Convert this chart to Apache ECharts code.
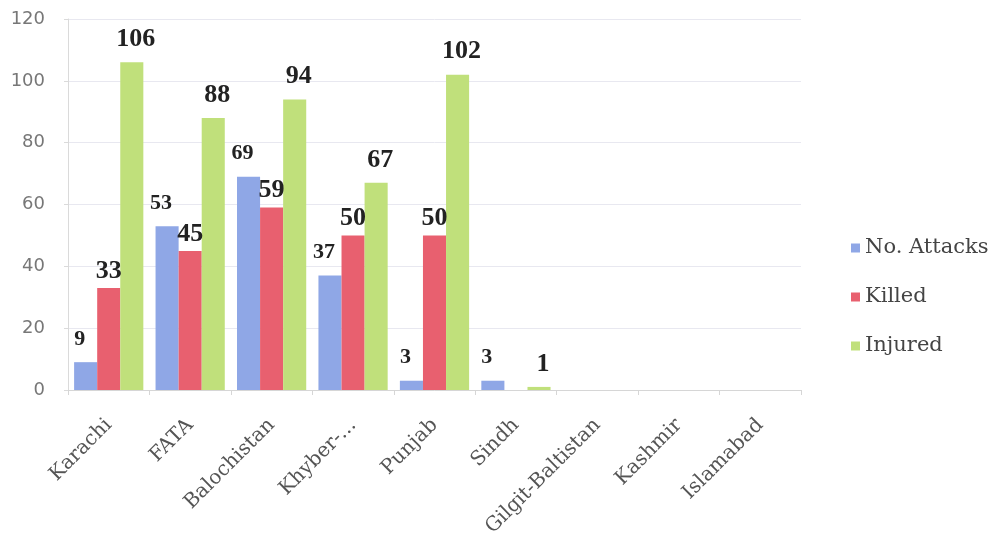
<!DOCTYPE html>
<html>
<head>
<meta charset="utf-8">
<script src="https://cdn.jsdelivr.net/npm/echarts@6/dist/echarts.min.js"></script>
<style>html,body{margin:0;padding:0;background:#fff}#c{width:1003px;height:551px}</style>
</head>
<body>
<div id="c"></div>
<script>
var categories = ["Karachi", "FATA", "Balochistan", "Khyber-...", "Punjab", "Sindh", "Gilgit-Baltistan", "Kashmir", "Islamabad"];
var attacks = [9, 53, 69, 37, 3, 3, 0, 0, 0];
var killed = [33, 45, 59, 50, 50, 0, 0, 0, 0];
var injured = [106, 88, 94, 67, 102, 1, 0, 0, 0];
var seriesNames = ["No. Attacks", "Killed", "Injured"];
var yTicks = [0, 20, 40, 60, 80, 100, 120];

var chart = echarts.init(document.getElementById('c'), null, {renderer: 'canvas'});
function hideZero(p) { return p.value === 0 ? '' : String(p.value); }
function lbl(size, dist, dx) {
  return {
    show: true, position: 'top', distance: dist, offset: [dx, 0],
    fontFamily: '"Liberation Serif", "Times New Roman", serif',
    fontWeight: 'bold', fontSize: size, color: '#222',
    formatter: hideZero
  };
}
chart.setOption({
  animation: false,
  backgroundColor: '#ffffff',
  grid: {left: 68, right: 202, top: 19, bottom: 161, containLabel: false},
  legend: {
    orient: 'vertical', left: 846, top: 232,
    itemWidth: 9, itemHeight: 9, itemGap: 27,
    icon: 'rect',
    textStyle: {fontFamily: '"DejaVu Serif", serif', fontSize: 21, color: '#444', lineHeight: 22},
    data: seriesNames
  },
  xAxis: {
    type: 'category', data: categories,
    axisLine: {lineStyle: {color: '#d6d6d6'}},
    axisTick: {show: true, length: 5, lineStyle: {color: '#d6d6d6'}},
    axisLabel: {
      interval: 0, rotate: 45, margin: 32, verticalAlign: 'middle',
      fontFamily: '"DejaVu Serif", serif', fontSize: 20, color: '#555'
    }
  },
  yAxis: {
    type: 'value', min: yTicks[0], max: yTicks[yTicks.length - 1], interval: yTicks[1] - yTicks[0],
    axisLine: {show: true, lineStyle: {color: '#dadada'}},
    axisTick: {show: true, length: 4, lineStyle: {color: '#dadada'}},
    splitLine: {lineStyle: {color: '#e8e8f0'}},
    axisLabel: {margin: 23, fontFamily: '"DejaVu Sans", sans-serif', fontSize: 18, color: '#777'}
  },
  series: [
    {name: seriesNames[0], type: 'bar', data: attacks, barGap: '0%', barCategoryGap: '15%',
     itemStyle: {color: '#8fa7e6'}, label: lbl(22, 12, -6)},
    {name: seriesNames[1], type: 'bar', data: killed, barGap: '0%', barCategoryGap: '15%',
     itemStyle: {color: '#e8606f'}, label: lbl(26, 4, 0)},
    {name: seriesNames[2], type: 'bar', data: injured, barGap: '0%', barCategoryGap: '15%',
     itemStyle: {color: '#c0e07b'}, label: lbl(26, 10, 4)}
  ]
});
</script>
</body>
</html>
